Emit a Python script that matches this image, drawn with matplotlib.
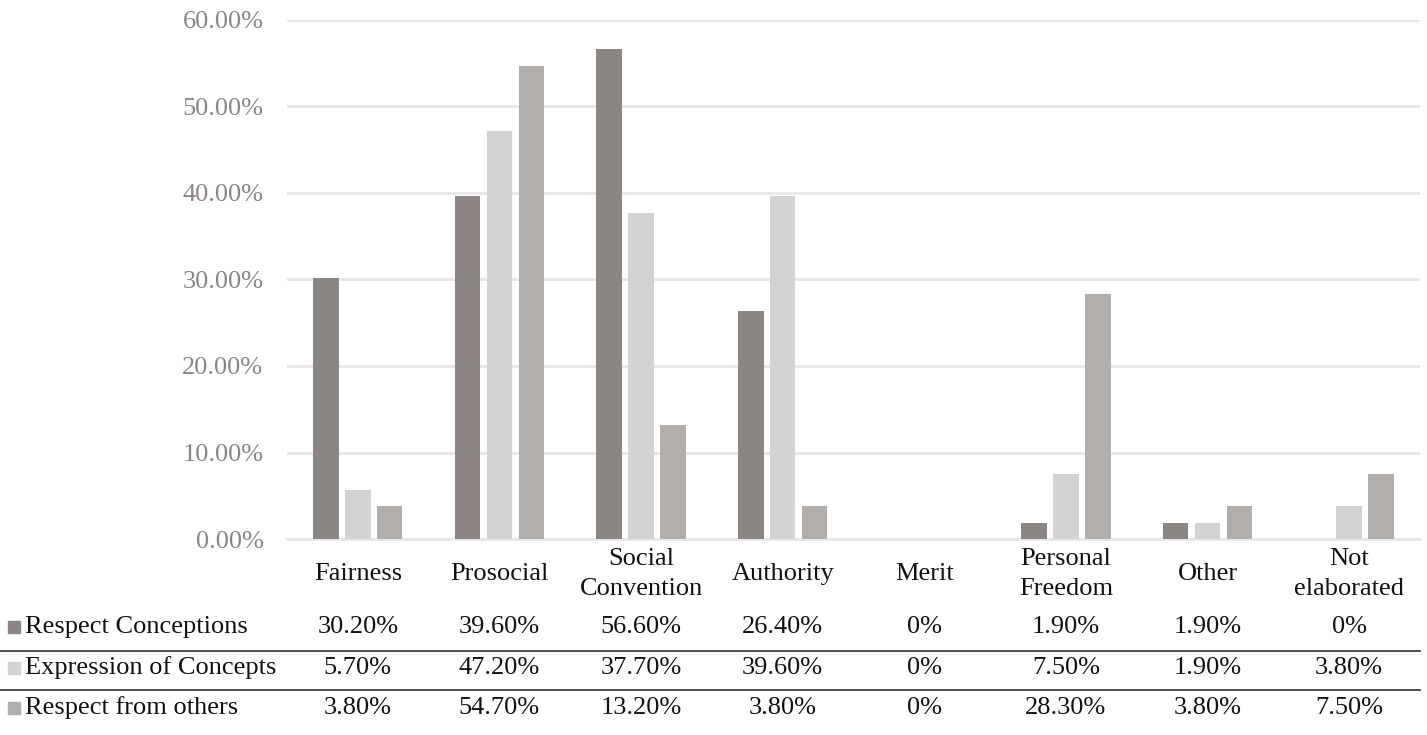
import numpy as np
import matplotlib.pyplot as plt
from matplotlib.lines import Line2D
from matplotlib.patches import Rectangle
import matplotlib.transforms as mtransforms

plt.rcParams['font.family'] = ['Liberation Serif', 'DejaVu Serif']

categories = ['Fairness', 'Prosocial', 'Social\nConvention', 'Authority', 'Merit',
              'Personal\nFreedom', 'Other', 'Not\nelaborated']
series_names = ['Respect Conceptions', 'Expression of Concepts', 'Respect from others']
respect_conceptions = [30.2, 39.6, 56.6, 26.4, 0, 1.9, 1.9, 0]
expression_of_concepts = [5.7, 47.2, 37.7, 39.6, 0, 7.5, 1.9, 3.8]
respect_from_others = [3.8, 54.7, 13.2, 3.8, 0, 28.3, 3.8, 7.5]
table_labels = [
    ['30.20%', '39.60%', '56.60%', '26.40%', '0%', '1.90%', '1.90%', '0%'],
    ['5.70%', '47.20%', '37.70%', '39.60%', '0%', '7.50%', '1.90%', '3.80%'],
    ['3.80%', '54.70%', '13.20%', '3.80%', '0%', '28.30%', '3.80%', '7.50%'],
]
colors = ['#8b8684', '#d4d2d3', '#b1aeac']

W, H = 1427, 735
fs = 19
fig = plt.figure(figsize=(W / 100, H / 100), dpi=100)
ax = fig.add_axes([287 / W, 1 - 539 / H, (1420 - 287) / W, (539 - 20) / H])

x = np.arange(len(categories))
bw = 0.18
gap = 0.225
series = [respect_conceptions, expression_of_concepts, respect_from_others]
for i, (vals, c) in enumerate(zip(series, colors)):
    ax.bar(x + (i - 1) * gap, vals, bw, color=c, zorder=3)

ax.set_xlim(-0.5, len(categories) - 0.5)
ax.set_ylim(0, 60)
ax.set_yticks(np.arange(0, 61, 10))
ax.set_yticklabels([f'{v:.2f}%' for v in np.arange(0, 61, 10)], fontsize=fs, color='#8b8684')
ax.tick_params(axis='y', length=0, pad=17)
ax.set_xticks(x)
ax.set_xticklabels(categories, fontsize=fs, color='#111111', linespacing=1.45)
for lab in ax.get_xticklabels():
    lab.set_verticalalignment('center')
ax.tick_params(axis='x', length=0, pad=25)
ax.grid(axis='y', color='#e8e6e6', linewidth=2, zorder=0)
for s in ['top', 'right', 'left']:
    ax.spines[s].set_visible(False)
ax.spines['bottom'].set_color('#e8e6e6')
ax.spines['bottom'].set_linewidth(2)

# data table below the chart
trans = mtransforms.blended_transform_factory(ax.transData, fig.transFigure)
row_y = [627, 668, 708]
for r in range(3):
    yf = 1 - row_y[r] / H
    fig.patches.append(Rectangle((8 / W, yf - 6 / H), 12 / W, 12 / H, color=colors[r],
                                 transform=fig.transFigure, figure=fig))
    fig.text(25 / W, yf, series_names[r], fontsize=fs, color='#111111', va='center', ha='left')
    for j, lab in enumerate(table_labels[r]):
        ax.text(x[j], yf, lab, transform=trans, fontsize=fs, color='#111111',
                va='center', ha='center', clip_on=False)

for ly in [651, 690]:
    fig.add_artist(Line2D([0, 1420 / W], [1 - ly / H, 1 - ly / H], color='#404040',
                          linewidth=1.3, transform=fig.transFigure))

fig.savefig('out.png', dpi=100)
